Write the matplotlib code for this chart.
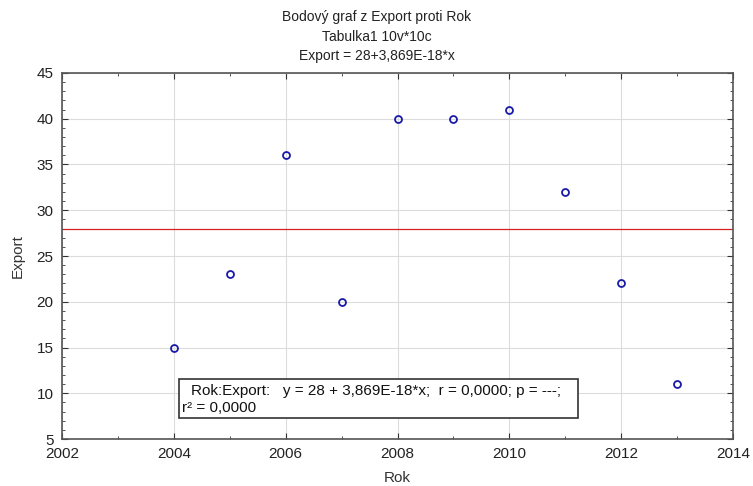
import matplotlib
matplotlib.use("Agg")
import matplotlib.pyplot as plt
from matplotlib.ticker import MultipleLocator
from matplotlib.patches import Rectangle

plt.rcParams['font.family'] = ['Liberation Sans', 'DejaVu Sans']

years = [2004, 2005, 2006, 2007, 2008, 2009, 2010, 2011, 2012, 2013]
export = [15, 23, 36, 20, 40, 40, 41, 32, 22, 11]
intercept = 28
slope = 3.869e-18
title_lines = ['Bodový graf z Export proti Rok', 'Tabulka1 10v*10c', 'Export = 28+3,869E-18*x']

W, H = 753, 486
fig = plt.figure(figsize=(W / 100, H / 100), dpi=100)
ax_l, ax_r, ax_t, ax_b = 62, 733, 73, 439
ax = fig.add_axes([ax_l / W, 1 - ax_b / H, (ax_r - ax_l) / W, (ax_b - ax_t) / H])

ax.set_xlim(2002, 2014)
ax.set_ylim(5, 45)
ax.xaxis.set_major_locator(MultipleLocator(2))
ax.xaxis.set_minor_locator(MultipleLocator(1))
ax.yaxis.set_major_locator(MultipleLocator(5))
ax.yaxis.set_minor_locator(MultipleLocator(1))
ax.grid(True, which='major', color='#dcdcdc', linewidth=0.8)
ax.set_axisbelow(True)
ax.tick_params(which='both', direction='in', top=True, right=True, labelsize=11, colors='#333333',
               labelcolor='#222222')
ax.tick_params(which='major', length=4)
ax.tick_params(which='minor', length=2)
ax.tick_params(axis='x', pad=6)
ax.tick_params(axis='y', pad=6)
for s in ax.spines.values():
    s.set_color('#555555')
    s.set_linewidth(1.2)

xl = ax.get_xlim()
ax.plot(xl, [intercept + slope * x for x in xl], color='#d62020', linewidth=0.9)
ax.plot(years, export, linestyle='none', marker='o', markersize=5,
        markerfacecolor='none', markeredgecolor='#1a1aaa', markeredgewidth=1.3)

fig.text(397 / W, 1 - 478 / H, 'Rok', fontsize=11, color='#333333', ha='center', va='center')
fig.text(18 / W, 1 - 256 / H, 'Export', fontsize=11, color='#333333', ha='center', va='center',
         rotation=90)
for txt, yc in zip(title_lines, [17, 37, 56]):
    fig.text(377 / W, 1 - yc / H, txt, fontsize=10, color='#222222', ha='center', va='center')

# regression info box (axes fraction coordinates)
bx0, bx1, by0, by1 = 179, 578, 379, 418
def fx(px):
    return (px - ax_l) / (ax_r - ax_l)
def fy(py):
    return (ax_b - py) / (ax_b - ax_t)
ax.add_patch(Rectangle((fx(bx0), fy(by1)), fx(bx1) - fx(bx0), fy(by0) - fy(by1),
                       transform=ax.transAxes, facecolor='white', edgecolor='#333333',
                       linewidth=1.2, zorder=5))
ax.text(fx(191), fy(395), 'Rok:Export:   y = 28 + 3,869E-18*x;  r = 0,0000; p = ---;',
        transform=ax.transAxes, fontsize=11, color='#111111', va='baseline', ha='left', zorder=6)
ax.text(fx(182), fy(412), 'r\u00b2 = 0,0000',
        transform=ax.transAxes, fontsize=11, color='#111111', va='baseline', ha='left', zorder=6)

fig.savefig('out.png', dpi=100)
